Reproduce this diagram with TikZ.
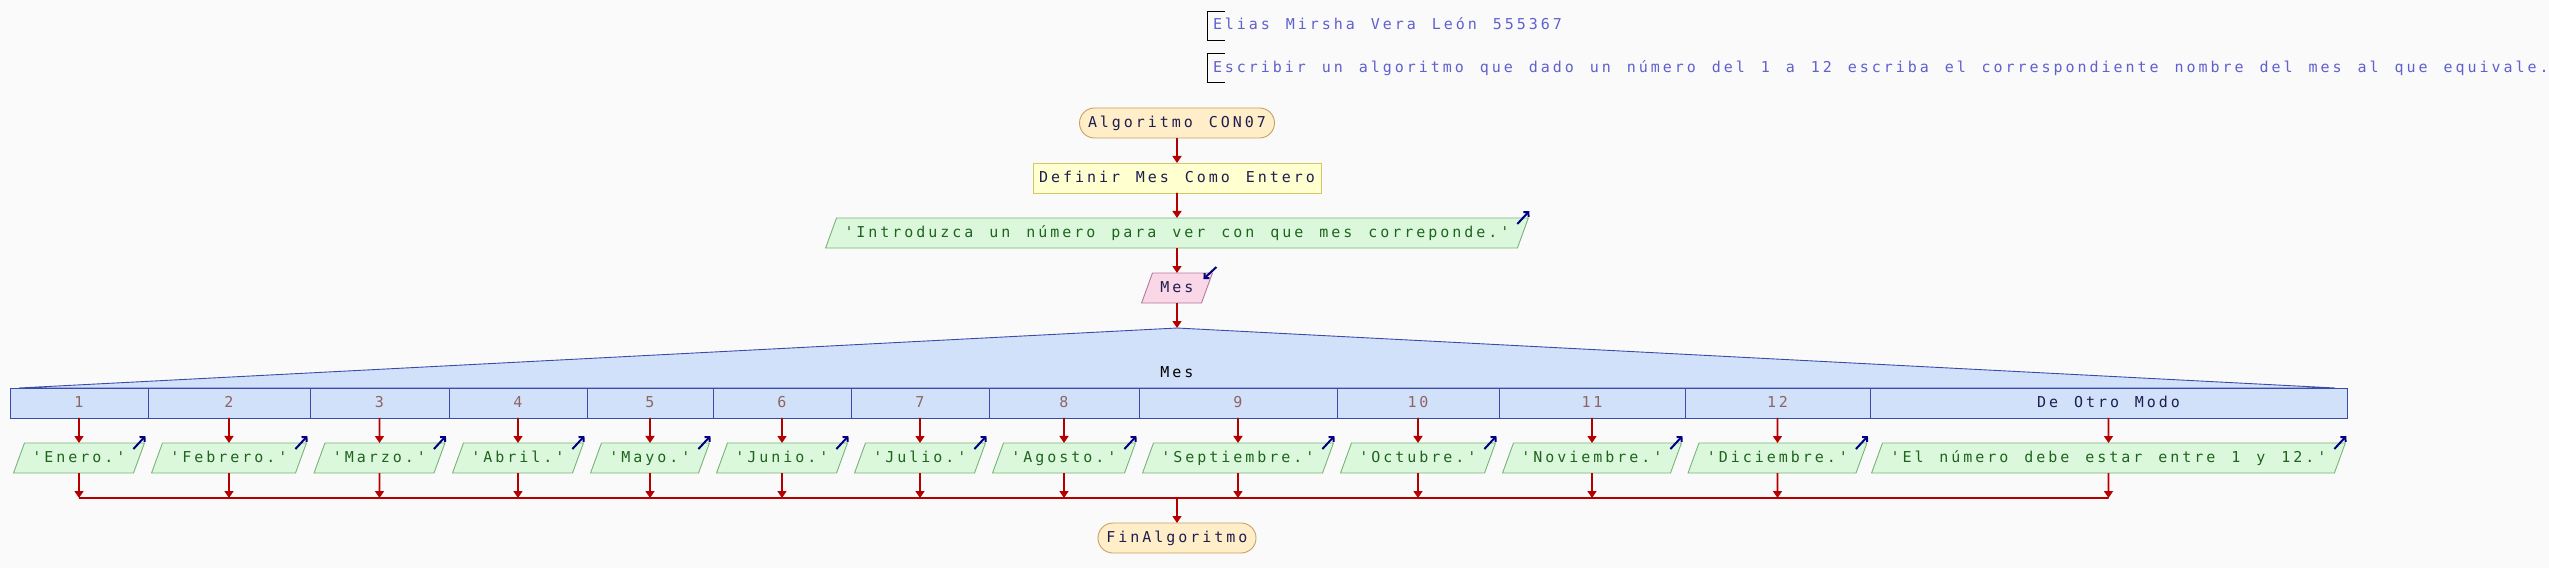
\documentclass[tikz,border=0pt]{standalone}
\usepackage{fontspec}
\setmonofont[LetterSpace=19.8, WordSpace=1.329]{DejaVu Sans Mono}
\usetikzlibrary{arrows.meta,shapes.geometric,positioning}
\definecolor{fondo}{RGB}{250,250,250}
\definecolor{texto}{RGB}{30,30,80}
\definecolor{comtexto}{RGB}{96,96,208}
\definecolor{termfondo}{RGB}{255,238,200}
\definecolor{termborde}{RGB}{200,160,100}
\definecolor{procfondo}{RGB}{255,255,208}
\definecolor{procborde}{RGB}{210,200,100}
\definecolor{salfondo}{RGB}{220,248,220}
\definecolor{salborde}{RGB}{120,180,120}
\definecolor{saltexto}{RGB}{30,100,30}
\definecolor{entfondo}{RGB}{250,215,230}
\definecolor{entborde}{RGB}{180,120,155}
\definecolor{segfondo}{RGB}{210,225,250}
\definecolor{segborde}{RGB}{60,75,170}
\definecolor{segnum}{RGB}{140,100,100}
\definecolor{flujo}{RGB}{180,0,0}
\definecolor{icono}{RGB}{0,0,128}
\tikzset{
  fc_node/.style = {align=center, font=\ttfamily\fontsize{15pt}{18pt}\selectfont,
    inner xsep=8pt, inner ysep=7pt, text height=12.5pt, text depth=3.5pt,
    outer sep=0pt, line width=0.9pt},% base de todos los bloques
  fc_term/.style = {fc_node, rectangle, rounded corners=15pt, draw=termborde,
    fill=termfondo, text=texto, inner xsep=8.5pt},% inicio y fin
  fc_proc/.style = {fc_node, rectangle, draw=procborde, fill=procfondo,
    text=texto, inner xsep=6pt},% definir
  fc_out/.style = {fc_node, trapezium, trapezium left angle=70,
    trapezium right angle=110, draw=salborde, fill=salfondo, text=saltexto},% escribir
  fc_in/.style = {fc_node, trapezium, trapezium left angle=70,
    trapezium right angle=110, draw=entborde, fill=entfondo, text=texto},% leer
  fc_case/.style = {fc_node, rectangle, draw=segborde, fill=segfondo,
    text=segnum, inner xsep=0pt},% opcion del segun
  fc_note/.style = {fc_node, anchor=west, text=comtexto, inner xsep=6pt,
    inner ysep=6.5pt},% comentario
  fc_flow/.style = {draw=flujo, line width=1.6pt, -{Triangle[width=9pt,length=7pt]}},
  fc_line/.style = {draw=flujo, line width=1.6pt},
  fc_icon/.style = {draw=icono, line width=2pt, -{Straight Barb[length=3.5pt,width=7pt]}}
}

\begin{document}
\begin{tikzpicture}[x=1pt, y=1pt, node distance=25pt]
    \useasboundingbox (0,0) rectangle (2549,568);
    \fill[fondo] (0,0) rectangle (2549,568);
    % comentarios
    \node [fc_note] (com1) at (1207,542.5) {Elias Mirsha Vera León 555367};
    \node [fc_note] (com2) at (1207,500) {Escribir un algoritmo que dado un número del 1 a 12 escriba el correspondiente nombre del mes al que equivale.};
    \draw[line width=0.9pt] ([xshift=18pt]com1.north west) -- (com1.north west) -- (com1.south west) -- ([xshift=18pt]com1.south west);
    \draw[line width=0.9pt] ([xshift=18pt]com2.north west) -- (com2.north west) -- (com2.south west) -- ([xshift=18pt]com2.south west);
    % secuencia principal
    \node [fc_term] (ini) at (1177,445) {Algoritmo CON07};
    \node [fc_proc, below=of ini] (def) {Definir Mes Como Entero};
    \node [fc_out, below=of def] (intro) {'Introduzca un número para ver con que mes correponde.'};
    \node [fc_in, below=of intro] (leer) {Mes};
    \coordinate [below=of leer] (seg);
    % segun
    \node [fc_case, minimum width=138pt, anchor=west] (c1) at (10,165) {1};
    \node [fc_case, minimum width=162pt, right=0pt of c1] (c2) {2};
    \node [fc_case, minimum width=139pt, right=0pt of c2] (c3) {3};
    \node [fc_case, minimum width=138pt, right=0pt of c3] (c4) {4};
    \node [fc_case, minimum width=126pt, right=0pt of c4] (c5) {5};
    \node [fc_case, minimum width=138pt, right=0pt of c5] (c6) {6};
    \node [fc_case, minimum width=138pt, right=0pt of c6] (c7) {7};
    \node [fc_case, minimum width=150pt, right=0pt of c7] (c8) {8};
    \node [fc_case, minimum width=198pt, right=0pt of c8] (c9) {9};
    \node [fc_case, minimum width=162pt, right=0pt of c9] (c10) {10};
    \node [fc_case, minimum width=186pt, right=0pt of c10] (c11) {11};
    \node [fc_case, minimum width=185pt, right=0pt of c11] (c12) {12};
    \node [fc_case, minimum width=477pt, right=0pt of c12, text=texto] (c13) {De Otro Modo};
    \filldraw[fill=segfondo, draw=segborde, line width=0.9pt] ([xshift=9pt]c1.north west) -- (seg) -- ([xshift=-12pt]c13.north east) -- cycle;
    \node [fc_node, text=black] (segun) at (1177,194.5) {Mes};
    % salidas
    \node [fc_out, below=of c1] (o1) {'Enero.'};
    \node [fc_out, below=of c2] (o2) {'Febrero.'};
    \node [fc_out, below=of c3] (o3) {'Marzo.'};
    \node [fc_out, below=of c4] (o4) {'Abril.'};
    \node [fc_out, below=of c5] (o5) {'Mayo.'};
    \node [fc_out, below=of c6] (o6) {'Junio.'};
    \node [fc_out, below=of c7] (o7) {'Julio.'};
    \node [fc_out, below=of c8] (o8) {'Agosto.'};
    \node [fc_out, below=of c9] (o9) {'Septiembre.'};
    \node [fc_out, below=of c10] (o10) {'Octubre.'};
    \node [fc_out, below=of c11] (o11) {'Noviembre.'};
    \node [fc_out, below=of c12] (o12) {'Diciembre.'};
    \node [fc_out, below=of c13] (o13) {'El número debe estar entre 1 y 12.'};
    \coordinate [below=of o1] (jl);
    \coordinate [below=of o13] (jr);
    \coordinate (jm) at (jl -| ini);
    \node [fc_term, below=of jm] (fin) {FinAlgoritmo};
    % conectores
    \draw[fc_flow] (ini) -- (def);
    \draw[fc_flow] (def) -- (intro);
    \draw[fc_flow] (intro) -- (leer);
    \draw[fc_flow] (leer) -- (seg);
    \draw[fc_icon] ([shift={(-11pt,-6pt)}]intro.top right corner) -- ([shift={(1pt,7pt)}]intro.top right corner);
    \draw[fc_icon] ([shift={(4pt,6pt)}]leer.top right corner) -- ([shift={(-9pt,-6pt)}]leer.top right corner);
    \foreach \i in {1,...,13} {
      \draw[fc_flow] (c\i) -- (o\i);
      \draw[fc_flow] (o\i) -- (o\i.south |- jl);
      \draw[fc_icon] ([shift={(-11pt,-6pt)}]o\i.top right corner) -- ([shift={(1pt,7pt)}]o\i.top right corner);
    }
    \draw[fc_line] (jl) -- (jr);
    \draw[fc_flow] (jm) -- (fin);
\end{tikzpicture}
\end{document}
